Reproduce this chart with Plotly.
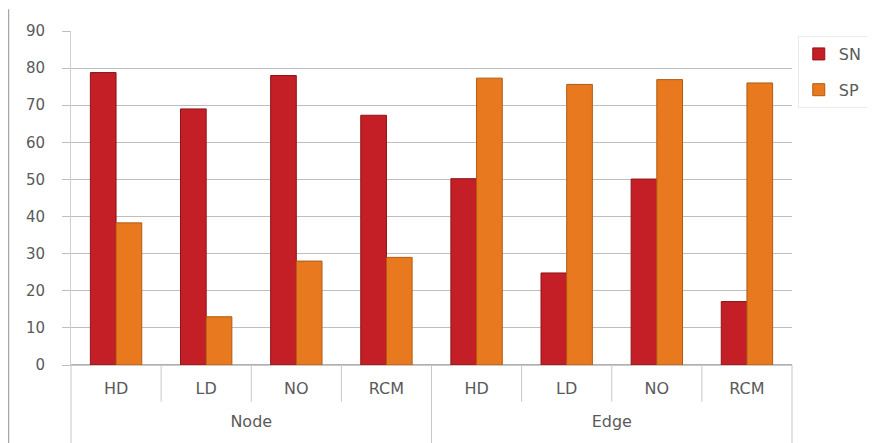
import plotly.graph_objects as go

groups = ["Node", "Node", "Node", "Node", "Edge", "Edge", "Edge", "Edge"]
methods = ["HD", "LD", "NO", "RCM", "HD", "LD", "NO", "RCM"]
sn_values = [78.8, 69.0, 78.0, 67.3, 50.2, 24.8, 50.1, 17.1]
sp_values = [38.3, 13.0, 28.0, 29.0, 77.3, 75.6, 76.9, 76.0]
y_ticks = [0, 10, 20, 30, 40, 50, 60, 70, 80, 90]

FONT = "DejaVu Sans, Verdana, sans-serif"
TXT = "#5A5A5A"
GRID = "#BEBEBE"
DIV = "#C8C8C8"

# outer labels get a spacer line so they sit lower, as in the reference
outer = ["\u00a0<br>" + g for g in groups]

fig = go.Figure()
fig.add_trace(go.Bar(
    x=[outer, methods], y=sn_values, name="SN", legendgroup="sn",
    marker=dict(color="#C41E26", line=dict(color="#8E1418", width=1)),
))
fig.add_trace(go.Bar(
    x=[outer, methods], y=sp_values, name="SP", legendgroup="sp",
    marker=dict(color="#E8791F", line=dict(color="#B35A12", width=1)),
))

n = len(methods)
shapes = []
for i in range(1, n):
    if i == n // 2:
        continue
    shapes.append(dict(type="line", xref="x domain", yref="paper",
                       x0=i / n, x1=i / n, y0=0, y1=-0.11,
                       line=dict(color=DIV, width=1)))
for xf in (0, 0.5, 1):
    shapes.append(dict(type="line", xref="x domain", yref="paper",
                       x0=xf, x1=xf, y0=0, y1=-0.24,
                       line=dict(color=DIV, width=1)))
# outer frame line on the left
shapes.append(dict(type="line", xref="paper", yref="paper",
                   x0=-0.087, x1=-0.087, y0=1.065, y1=-0.24,
                   line=dict(color="#A8A8A8", width=2)))

fig.update_layout(
    width=867, height=435,
    margin=dict(l=63, r=83, t=23, b=78, autoexpand=False),
    paper_bgcolor="white", plot_bgcolor="white",
    barmode="group", bargap=0.43, bargroupgap=0,
    font=dict(family=FONT, size=15, color=TXT),
    shapes=shapes,
    legend=dict(x=1.008, y=0.985, xanchor="left", yanchor="top",
                bordercolor="#EBEBEB", borderwidth=1,
                tracegroupgap=12, font=dict(size=16, color=TXT),
                itemwidth=30),
    xaxis=dict(type="multicategory", showgrid=False,
               showline=True, linecolor=DIV, linewidth=1,
               showdividers=False, ticks="",
               ticklabelstandoff=9,
               tickfont=dict(size=16, color=TXT)),
    yaxis=dict(range=[0, 90], tickvals=y_ticks, showgrid=True,
               gridcolor=GRID, gridwidth=1, zeroline=True,
               zerolinecolor="#B0B0B0", ticks="outside", ticklen=8,
               tickcolor=GRID, showline=True, linecolor="#D0D0D0",
               ticklabelstandoff=14, tickfont=dict(size=15, color=TXT)),
)

fig.write_html("out.html")
